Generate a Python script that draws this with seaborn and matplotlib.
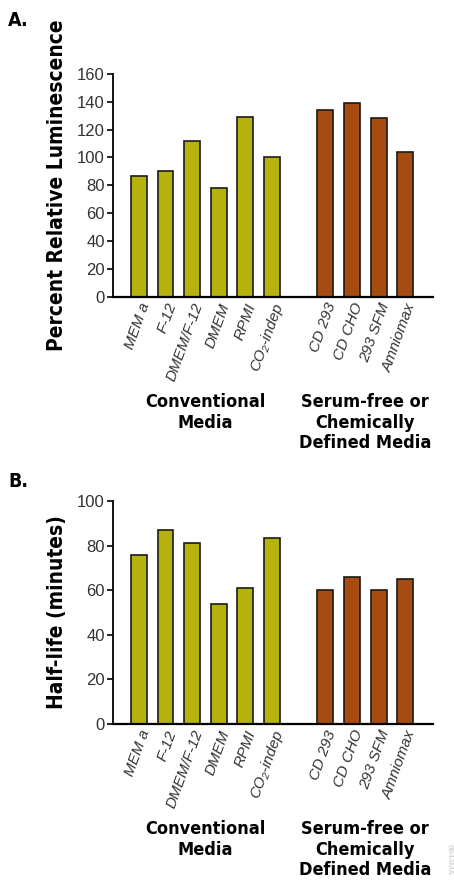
import pandas as pd
import seaborn as sb
from matplotlib import pyplot as plt
from matplotlib import font_manager

# * data
conventional = ["MEM a", "F-12", "DMEM/F-12", "DMEM", "RPMI", "CO\u2082-indep"]
serum_free = ["CD 293", "CD CHO", "293 SFM", "Amniomax"]
lum_conventional = [87, 90, 112, 78, 129, 100]
lum_serum_free = [134, 139, 128, 104]
half_conventional = [76, 87, 81, 54, 61, 83.5]
half_serum_free = [60, 66, 60, 65]
group_labels = ["Conventional\nMedia", "Serum-free or\nChemically\nDefined Media"]

OLIVE = "#b6b20d"
BROWN = "#a64c10"

# * pick a condensed bold face if one is installed
fonts = font_manager.fontManager.ttflist
names = {f.name for f in fonts}
if "Liberation Sans Narrow" in names:
    NARROW = {"family": ["Liberation Sans Narrow", "DejaVu Sans"], "stretch": "normal"}
elif any(f.name == "DejaVu Sans" and f.stretch == "condensed" for f in fonts):
    NARROW = {"family": ["DejaVu Sans"], "stretch": "condensed"}
else:
    NARROW = {"family": ["Liberation Sans", "DejaVu Sans"], "stretch": "normal"}

sb.set_theme(style="ticks")
plt.rcParams["font.family"] = ["Liberation Sans", "DejaVu Sans"]

order = conventional + [" "] + serum_free


def make_df(vals_a, vals_b):
    return pd.DataFrame({
        "medium": conventional + serum_free,
        "value": vals_a + vals_b,
        "group": ["conv"] * len(conventional) + ["sfm"] * len(serum_free),
    })


fig = plt.figure(figsize=(4.54, 8.89), dpi=100)
ax_a = fig.add_axes([0.249, 0.666, 0.705, 0.251])
ax_b = fig.add_axes([0.249, 0.1856, 0.705, 0.2508])

panels = [
    (ax_a, make_df(lum_conventional, lum_serum_free), 160, 20, "Percent Relative Luminescence"),
    (ax_b, make_df(half_conventional, half_serum_free), 100, 20, "Half-life (minutes)"),
]

bold_kw = dict(family=NARROW["family"], fontstretch=NARROW["stretch"], fontweight="bold")

for ax, df, ymax, step, ylabel in panels:
    sb.barplot(
        data=df, x="medium", y="value", hue="group", order=order,
        palette={"conv": OLIVE, "sfm": BROWN}, dodge=False, width=0.6, saturation=1,
        edgecolor="#1a1a1a", linewidth=1.2, legend=False, ax=ax,
    )
    ax.set_ylim(0, ymax)
    ax.set_xlim(-0.97, 11.05)
    ax.set_yticks(range(0, ymax + 1, step))
    ax.tick_params(axis="y", length=4, width=1.2, color="black", labelsize=12,
                   labelcolor="#333333", pad=2)
    ax.tick_params(axis="x", length=0, pad=3, labelcolor="#333333")
    ax.set_xticks(range(len(order)))
    ax.set_xticklabels(order, rotation=70, ha="right", rotation_mode="anchor",
                       fontsize=11, style="italic")
    for s in ["top", "right"]:
        ax.spines[s].set_visible(False)
    ax.spines["left"].set_linewidth(1.3)
    ax.spines["bottom"].set_linewidth(1.6)
    ax.spines["left"].set_color("black")
    ax.spines["bottom"].set_color("black")
    ax.set_xlabel("")
    ax.set_ylabel(ylabel, fontsize=15, labelpad=7, color="black", **bold_kw)

    # * group labels under the tick labels
    ax.text(2.5, -0.43, group_labels[0], transform=ax.get_xaxis_transform(),
            ha="center", va="top", fontsize=13, linespacing=1.2, color="black", **bold_kw)
    ax.text(8.5, -0.43, group_labels[1], transform=ax.get_xaxis_transform(),
            ha="center", va="top", fontsize=13, linespacing=1.2, color="black", **bold_kw)

fig.text(8 / 454, 1 - 20 / 889, "A.", fontsize=14, va="center", ha="left", color="black", **bold_kw)
fig.text(8 / 454, 1 - 482 / 889, "B.", fontsize=14, va="center", ha="left", color="black", **bold_kw)
fig.text(449 / 454, 1 - 860 / 889, "6843MA", rotation=270, fontsize=6, color="#c8c8c8",
         ha="center", va="center")

fig.savefig("out.png", dpi=100)
plt.close()
